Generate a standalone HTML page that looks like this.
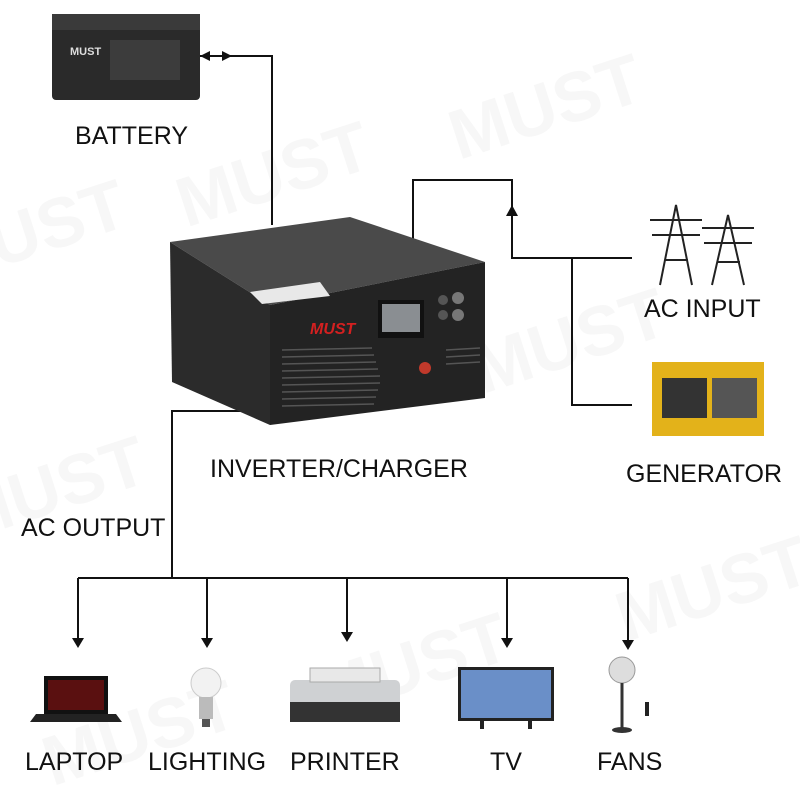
<!DOCTYPE html>
<html><head><meta charset="utf-8"><style>
html,body{margin:0;padding:0;background:#fff;width:800px;height:800px;overflow:hidden;}
svg{display:block}
text{font-family:"Liberation Sans",sans-serif;}
</style></head><body>
<svg width="800" height="800" viewBox="0 0 800 800" xmlns="http://www.w3.org/2000/svg">
<rect width="800" height="800" fill="#fff"/>
<g fill="#f7f7f7" font-weight="bold" font-size="70" transform="rotate(-18 400 400)">
<text x="0" y="150">MUST</text><text x="250" y="170">MUST</text><text x="530" y="190">MUST</text>
<text x="-60" y="400">MUST</text><text x="480" y="420">MUST</text>
<text x="-50" y="660">MUST</text><text x="230" y="680">MUST</text><text x="540" y="700">MUST</text>
</g>
<g stroke="#111" stroke-width="2" fill="none">
<polyline points="200,56 272,56 272,225"/>
<polyline points="413,240 413,180 512,180 512,258 632,258"/>
<polyline points="572,258 572,405 632,405"/>
<polyline points="262,411 172,411 172,578"/>
<line x1="78" y1="578" x2="628" y2="578"/>
<line x1="78" y1="578" x2="78" y2="638"/>
<line x1="207" y1="578" x2="207" y2="638"/>
<line x1="347" y1="578" x2="347" y2="632"/>
<line x1="507" y1="578" x2="507" y2="638"/>
<line x1="628" y1="578" x2="628" y2="640"/>
</g>
<g fill="#111">
<polygon points="200,56 210,51 210,61"/><polygon points="232,56 222,51 222,61"/>
<polygon points="512,205 506,216 518,216"/>
<polygon points="72,638 84,638 78,648"/><polygon points="201,638 213,638 207,648"/>
<polygon points="341,632 353,632 347,642"/><polygon points="501,638 513,638 507,648"/>
<polygon points="622,640 634,640 628,650"/>
</g>
<rect x="52" y="14" width="148" height="86" rx="4" fill="#2a2a2a"/>
<rect x="52" y="14" width="148" height="16" fill="#3a3a3a"/>
<text x="70" y="55" fill="#ddd" font-size="11" font-weight="bold">MUST</text>
<rect x="110" y="40" width="70" height="40" fill="#3c3c3c"/>
<polygon points="170,242 350,217 485,262 270,305" fill="#4a4a4a"/>
<polygon points="170,242 270,305 270,425 172,382" fill="#2b2b2b"/>
<polygon points="270,305 485,262 485,398 270,425" fill="#232323"/>
<polygon points="250,292 320,282 330,296 262,304" fill="#e8e8e8"/>
<text x="310" y="334" fill="#d42020" font-size="16" font-weight="bold" font-style="italic">MUST</text>
<rect x="378" y="300" width="46" height="38" fill="#111"/>
<rect x="382" y="304" width="38" height="28" fill="#8a8e92"/>
<circle cx="443" cy="300" r="5" fill="#555"/><circle cx="458" cy="298" r="6" fill="#777"/>
<circle cx="443" cy="315" r="5" fill="#555"/><circle cx="458" cy="315" r="6" fill="#777"/>
<g stroke="#555" stroke-width="1.5">
<line x1="282" y1="350" x2="372" y2="348"/><line x1="282" y1="357" x2="374" y2="355"/><line x1="282" y1="364" x2="376" y2="362"/>
<line x1="282" y1="371" x2="378" y2="369"/><line x1="282" y1="378" x2="380" y2="376"/><line x1="282" y1="385" x2="380" y2="383"/>
<line x1="282" y1="392" x2="378" y2="390"/><line x1="282" y1="399" x2="376" y2="397"/><line x1="282" y1="406" x2="374" y2="404"/>
<line x1="446" y1="350" x2="480" y2="348"/><line x1="446" y1="357" x2="480" y2="355"/><line x1="446" y1="364" x2="480" y2="362"/>
</g>
<circle cx="425" cy="368" r="6" fill="#c0392b"/>
<g stroke="#222" stroke-width="2" fill="none">
<polyline points="660,285 676,205 692,285"/><line x1="650" y1="220" x2="702" y2="220"/><line x1="652" y1="235" x2="700" y2="235"/>
<polyline points="712,285 728,215 744,285"/><line x1="702" y1="228" x2="754" y2="228"/><line x1="704" y1="243" x2="752" y2="243"/>
<line x1="665" y1="260" x2="688" y2="260"/><line x1="717" y1="262" x2="740" y2="262"/>
</g>
<rect x="652" y="362" width="112" height="74" fill="#e3b21a"/>
<rect x="662" y="378" width="45" height="40" fill="#333"/>
<rect x="712" y="378" width="45" height="40" fill="#555"/>
<rect x="44" y="676" width="64" height="38" fill="#111"/>
<rect x="48" y="680" width="56" height="30" fill="#5a1010"/>
<polygon points="36,714 116,714 122,722 30,722" fill="#222"/>
<circle cx="206" cy="683" r="15" fill="#f2f2f2" stroke="#ccc"/>
<rect x="199" y="697" width="14" height="22" fill="#bbb"/>
<rect x="202" y="719" width="8" height="8" fill="#555"/>
<rect x="290" y="680" width="110" height="36" rx="5" fill="#cfd1d3"/>
<rect x="290" y="702" width="110" height="20" fill="#333"/>
<rect x="310" y="668" width="70" height="14" fill="#e8e8e8" stroke="#aaa"/>
<rect x="458" y="667" width="96" height="54" fill="#222"/>
<rect x="461" y="670" width="90" height="48" fill="#6a8fc8"/>
<rect x="480" y="721" width="4" height="8" fill="#222"/><rect x="528" y="721" width="4" height="8" fill="#222"/>
<circle cx="622" cy="670" r="13" fill="#ddd" stroke="#999"/>
<line x1="622" y1="683" x2="622" y2="728" stroke="#333" stroke-width="3"/>
<ellipse cx="622" cy="730" rx="10" ry="3" fill="#333"/>
<rect x="645" y="702" width="4" height="14" fill="#222"/>
<g font-size="25" fill="#111">
<text x="75" y="144">BATTERY</text>
<text x="644" y="317">AC INPUT</text>
<text x="626" y="482">GENERATOR</text>
<text x="210" y="477">INVERTER/CHARGER</text>
<text x="21" y="536">AC OUTPUT</text>
<text x="25" y="770">LAPTOP</text>
<text x="148" y="770">LIGHTING</text>
<text x="290" y="770">PRINTER</text>
<text x="490" y="770">TV</text>
<text x="597" y="770">FANS</text>
</g>
</svg>
</body></html>
